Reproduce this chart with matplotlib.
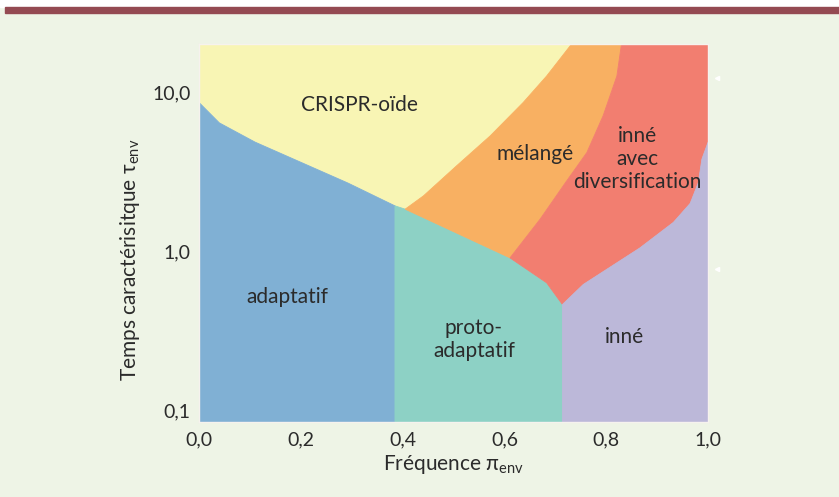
import numpy as np
import matplotlib
matplotlib.use("Agg")
import matplotlib.pyplot as plt
from matplotlib import font_manager

# police : Lato si disponible
names = set(f.name for f in font_manager.fontManager.ttflist)
fam = "DejaVu Sans"
for cand in ["Lato", "Open Sans", "DejaVu Sans"]:
    if cand in names:
        fam = cand
        break
plt.rcParams['font.family'] = [fam, 'DejaVu Sans']
plt.rcParams['mathtext.fontset'] = 'custom'
plt.rcParams['mathtext.rm'] = fam

# limites du diagramme
XMIN, XMAX = 0.0, 1.0
YMIN, YMAX = 0.085, 20.0

# frontieres entre phases (pi_env, tau_env)
crispr_adapt_x = [0.0, 0.04, 0.11, 0.293, 0.385]
crispr_adapt_y = [8.6, 6.4, 4.85, 2.68, 1.93]
junction = (0.405, 1.84)
crispr_mix_x = [0.405, 0.441, 0.506, 0.572, 0.637, 0.683, 0.732]
crispr_mix_y = [1.84, 2.23, 3.44, 5.3, 8.6, 12.6, 20.0]
mix_div_x = [0.830, 0.821, 0.794, 0.762, 0.720, 0.670, 0.611]
mix_div_y = [20.0, 12.6, 7.1, 4.17, 2.7, 1.59, 0.91]
proto_div_x = [0.611, 0.683, 0.714]
proto_div_y = [0.91, 0.635, 0.464]
div_inne_x = [0.714, 0.755, 0.866, 0.932, 0.965, 0.981, 0.988, 1.0]
div_inne_y = [0.464, 0.62, 1.05, 1.52, 2.0, 2.7, 3.79, 4.83]

labels = ["CRISPR-oïde", "mélangé", "inné\navec\ndiversification",
          "adaptatif", "proto-\nadaptatif", "inné"]
label_x = [0.316, 0.660, 0.862, 0.173, 0.540, 0.835]
label_y = [8.28, 4.08, 3.79, 0.515, 0.28, 0.292]

colors = {"crispr": "#f8f5b4", "mix": "#f8b062", "div": "#f27e70",
          "adapt": "#80b0d4", "proto": "#8dd1c5", "inne": "#bcb8d9"}
bg = "#eef4e6"
txt = "#2b2b2b"

fig = plt.figure(figsize=(8.39, 4.97), dpi=100)
fig.patch.set_facecolor(bg)
ax = fig.add_axes([199/839, 1-422/497, 509/839, 378/497])
ax.set_yscale('log')
ax.set_xlim(XMIN, XMAX)
ax.set_ylim(YMIN, YMAX)

def poly(xs, ys, c):
    ax.fill(xs, ys, color=c, lw=0.6, ec=c, zorder=1)

# CRISPR-oide
xs = [XMIN] + crispr_adapt_x + crispr_mix_x + [XMIN]
ys = [YMAX] + crispr_adapt_y + crispr_mix_y + [YMAX]
poly(xs, ys, colors["crispr"])
# adaptatif
xs = [XMIN] + crispr_adapt_x + [crispr_adapt_x[-1]]
ys = [YMIN] + crispr_adapt_y + [YMIN]
poly(xs, ys, colors["adapt"])
# proto-adaptatif
xs = [crispr_adapt_x[-1], crispr_adapt_x[-1], junction[0]] + proto_div_x + [proto_div_x[-1]]
ys = [YMIN, crispr_adapt_y[-1], junction[1]] + proto_div_y + [YMIN]
poly(xs, ys, colors["proto"])
# melange
xs = crispr_mix_x + mix_div_x
ys = crispr_mix_y + mix_div_y
poly(xs, ys, colors["mix"])
# inne avec diversification
xs = [mix_div_x[0], XMAX] + div_inne_x[::-1] + proto_div_x[::-1] + mix_div_x[::-1]
ys = [YMAX, YMAX] + div_inne_y[::-1] + proto_div_y[::-1] + mix_div_y[::-1]
poly(xs, ys, colors["div"])
# inne
xs = [div_inne_x[0]] + div_inne_x + [XMAX]
ys = [YMIN] + div_inne_y + [YMIN]
poly(xs, ys, colors["inne"])

for s, x, y in zip(labels, label_x, label_y):
    ax.text(x, y, s, ha='center', va='center', fontsize=15, color=txt,
            linespacing=1.2, zorder=3)

# petits reperes blancs a droite
ax.plot([1.017, 1.017], [12.2, 0.78], ls='none', marker='<', ms=3,
        color='white', clip_on=False, zorder=3)

ax.set_xticks([0, 0.2, 0.4, 0.6, 0.8, 1.0])
ax.set_xticklabels(["0,0", "0,2", "0,4", "0,6", "0,8", "1,0"])
ax.set_yticks([0.1, 1.0, 10.0])
ax.set_yticklabels(["0,1", "1,0", "10,0"])
ax.yaxis.set_minor_locator(matplotlib.ticker.NullLocator())
ax.tick_params(axis='both', length=0, labelsize=14, colors=txt)
ax.tick_params(axis='x', pad=7)
ax.tick_params(axis='y', pad=6)
for sp in ax.spines.values():
    sp.set_color('#f6f2ee')
    sp.set_linewidth(1)

ax.set_xlabel("Fréquence π$_{\\mathregular{env}}$", fontsize=15, color=txt, labelpad=3)
ax.set_ylabel("Temps caractérisitque τ$_{\\mathregular{env}}$", fontsize=15, color=txt)
ax.yaxis.set_label_coords(-0.112, 0.43)

# bandeau superieur
fig.patches.append(plt.Rectangle((0, 1-7/497), 1, 7/497, transform=fig.transFigure,
                                 color='white', zorder=0))
fig.patches.append(plt.Rectangle((5/839, 1-12.5/497), 1, 5.5/497, transform=fig.transFigure,
                                 color='#944a52', zorder=1))

fig.savefig("out.png", dpi=100, facecolor=bg)
